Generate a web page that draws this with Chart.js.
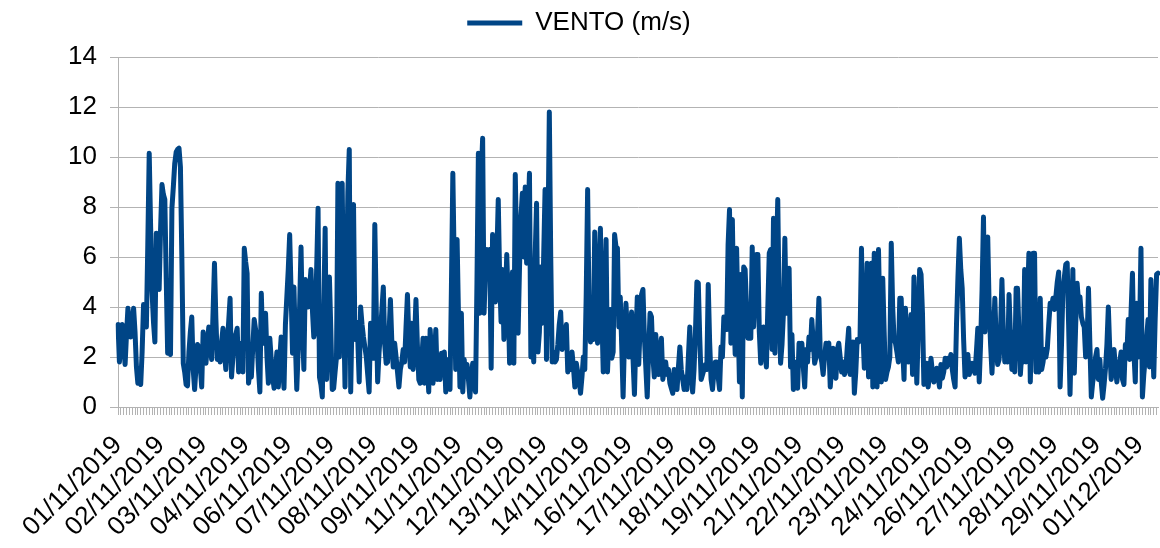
<!DOCTYPE html>
<html>
<head>
<meta charset="utf-8">
<title>VENTO (m/s)</title>
<script src="https://cdn.jsdelivr.net/npm/chart.js@4/dist/chart.umd.min.js"></script>
<style>
    html, body { margin: 0; padding: 0; background: #ffffff; }
    #wrap { width: 1160px; height: 548px; position: relative; }
</style>
</head>
<body>
<div id="wrap"><canvas id="ventoChart"></canvas></div>
<script>
// hourly wind readings, 01/11/2019 00h onwards
const vento = [
    3.3, 1.8, 2.6, 3.3, 2.5, 1.7, 2.9, 3.95, 3.4, 2.8,
    3.3, 3.95, 3.0, 1.6, 0.95, 1.1, 0.9, 2.2, 4.1, 3.6,
    3.2, 6.5, 10.15, 7.2, 4.6, 3.4, 2.6, 6.95, 5.8, 4.7,
    7.1, 8.9, 8.5, 8.3, 5.1, 2.15, 2.3, 2.1, 7.95, 8.8,
    9.75, 10.2, 10.3, 10.35, 9.6, 6.0, 1.75, 1.4, 0.9, 0.85,
    2.2, 3.0, 3.6, 1.5, 0.7, 1.6, 2.5, 2.4, 1.6, 0.8,
    3.0, 2.2, 1.75, 2.6, 3.2, 2.5, 1.9, 3.8, 5.75, 3.5,
    1.9, 2.3, 1.8, 2.6, 3.15, 2.2, 1.5, 2.55, 3.4, 4.35,
    1.2, 2.0, 2.7, 2.9, 3.15, 1.4, 2.0, 2.55, 1.4, 6.35,
    5.8, 5.35, 0.95, 1.4, 1.2, 2.4, 3.5, 3.1, 2.7, 1.5,
    0.6, 4.55, 2.55, 3.2, 3.75, 2.0, 0.95, 2.75, 1.9, 1.2,
    0.75, 1.5, 2.2, 0.8, 1.9, 2.8, 1.6, 0.75, 3.3, 4.4,
    5.5, 6.9, 4.6, 2.15, 4.8, 2.6, 0.7, 2.3, 4.0, 6.4,
    3.2, 1.5, 5.1, 4.6, 4.0, 4.7, 5.5, 3.9, 2.8, 3.1,
    5.5, 7.95, 1.2, 0.9, 0.4, 3.8, 7.15, 1.1, 3.0, 5.2,
    3.1, 0.7, 0.75, 1.4, 2.0, 8.95, 2.0, 5.0, 8.95, 4.0,
    0.8, 4.5, 8.6, 10.3, 0.6, 3.8, 8.1, 2.7, 3.4, 2.7,
    1.0, 4.0, 3.3, 2.8, 2.4, 2.0, 1.3, 0.6, 3.35, 2.6,
    1.95, 7.3, 4.0, 1.0, 2.2, 3.0, 3.9, 4.8, 2.5, 1.75,
    1.8, 2.9, 4.3, 2.6, 1.6, 2.55, 2.0, 1.4, 0.8, 1.5,
    1.8, 2.3, 1.8, 3.2, 4.5, 2.8, 1.6, 3.35, 1.5, 2.7,
    4.3, 2.5, 1.1, 0.95, 1.8, 2.75, 0.95, 2.75, 1.9, 0.6,
    3.1, 2.1, 0.95, 2.0, 3.1, 1.1, 1.5, 1.1, 2.15, 1.6,
    2.2, 0.6, 1.4, 1.9, 0.7, 4.8, 9.35, 5.6, 1.5, 6.7,
    3.6, 0.8, 3.75, 0.6, 1.9, 1.3, 1.7, 1.1, 0.4, 1.2,
    1.75, 0.9, 0.6, 5.0, 10.15, 3.75, 9.2, 10.75, 3.75, 5.5,
    6.3, 5.4, 6.3, 1.55, 6.9, 5.6, 4.2, 6.0, 8.3, 5.2,
    3.4, 5.5, 2.7, 4.2, 6.1, 4.3, 1.75, 4.0, 5.4, 1.75,
    9.3, 6.2, 2.95, 5.6, 7.6, 8.55, 6.0, 8.8, 5.75, 7.5,
    9.35, 2.0, 4.0, 1.8, 6.0, 8.15, 2.2, 3.0, 5.6, 3.35,
    6.0, 8.7, 1.9, 6.5, 11.8, 6.0, 1.8, 2.2, 1.8, 1.9,
    2.5, 3.3, 3.8, 2.3, 2.6, 2.9, 3.3, 1.4, 1.9, 1.5,
    2.2, 1.6, 0.8, 1.75, 1.4, 1.1, 0.55, 1.2, 2.0, 1.5,
    4.5, 8.7, 3.9, 2.6, 3.2, 2.7, 7.0, 4.5, 2.55, 4.8,
    7.15, 3.8, 1.4, 4.2, 6.7, 1.4, 2.8, 3.9, 1.95, 2.2,
    6.9, 6.4, 6.35, 3.2, 4.4, 2.5, 0.4, 2.8, 4.15, 3.0,
    2.0, 3.0, 3.8, 1.9, 0.5, 2.7, 4.4, 1.7, 3.2, 4.5,
    4.7, 2.8, 1.6, 0.4, 2.2, 3.75, 3.6, 2.0, 1.2, 2.9,
    2.0, 1.3, 2.2, 2.75, 1.1, 1.5, 1.8, 1.3, 1.5, 0.95,
    0.75, 0.55, 1.5, 1.0, 0.7, 1.6, 2.4, 1.5, 1.1, 0.7,
    1.2, 0.7, 2.0, 3.2, 1.6, 0.6, 1.5, 3.0, 5.0, 4.95,
    2.8, 1.1, 1.3, 1.5, 1.7, 1.5, 4.9, 2.6, 1.1, 0.7,
    1.4, 1.8, 1.8, 1.2, 0.7, 2.4, 2.0, 3.6, 3.3, 3.1,
    6.5, 7.9, 2.55, 7.5, 4.0, 2.1, 6.35, 3.6, 1.0, 5.3,
    0.4, 5.6, 5.5, 4.0, 2.75, 2.9, 2.75, 6.4, 3.2, 4.5,
    6.1, 6.1, 3.0, 1.75, 2.8, 3.2, 2.2, 1.6, 4.0, 6.15,
    6.3, 2.3, 7.55, 2.15, 5.8, 8.3, 4.0, 1.75, 2.5, 3.75,
    6.75, 3.75, 4.2, 5.55, 1.6, 2.9, 0.7, 1.8, 1.2, 0.75,
    2.55, 1.9, 2.55, 1.6, 0.8, 2.3, 1.8, 2.8, 2.3, 3.5,
    2.6, 1.75, 2.0, 2.9, 4.35, 2.1, 1.8, 1.3, 2.0, 2.55,
    2.5, 2.55, 0.8, 1.6, 2.35, 1.3, 1.15, 2.3, 2.55, 2.0,
    1.4, 1.8, 1.3, 1.5, 2.4, 3.15, 1.3, 2.0, 2.6, 0.55,
    1.4, 2.7, 2.6, 2.8, 6.35, 3.0, 1.55, 3.5, 5.75, 1.2,
    4.0, 5.75, 0.8, 6.15, 3.0, 0.8, 6.3, 3.5, 1.0, 5.15,
    3.0, 1.1, 1.4, 1.6, 2.0, 6.55, 4.0, 2.7, 2.55, 2.2,
    1.8, 4.35, 4.35, 2.4, 1.1, 3.95, 2.6, 1.8, 2.9, 3.7,
    1.3, 5.2, 3.2, 0.95, 3.0, 5.5, 5.3, 3.75, 0.9, 1.3,
    1.75, 0.8, 1.3, 1.95, 1.4, 1.0, 1.3, 1.55, 1.2, 0.8,
    1.7, 1.15, 1.4, 1.95, 1.6, 1.95, 1.7, 2.1, 1.5, 1.1,
    0.8, 3.35, 5.2, 6.75, 5.5, 4.75, 2.7, 1.2, 1.8, 2.1,
    1.3, 1.6, 1.75, 1.5, 1.35, 2.2, 3.15, 1.0, 2.6, 4.7,
    7.6, 3.0, 5.0, 6.8, 4.0, 2.5, 1.35, 2.8, 4.35, 2.6,
    1.7, 1.9, 3.0, 5.1, 3.0, 1.8, 2.2, 1.8, 4.5, 2.9,
    1.5, 3.0, 1.4, 4.75, 4.75, 3.0, 1.3, 2.2, 1.8, 5.5,
    1.8, 4.0, 6.15, 1.0, 3.5, 6.15, 6.15, 1.4, 1.6, 1.4,
    4.35, 1.5, 1.8, 2.3, 2.0, 2.35, 3.3, 4.15, 4.0, 4.35,
    3.9, 4.4, 5.0, 5.4, 0.8, 2.5, 4.7, 5.2, 5.7, 5.75,
    3.3, 0.5, 3.0, 5.5, 1.35, 3.3, 4.95, 4.2, 4.4, 3.6,
    3.35, 3.2, 2.0, 2.6, 4.75, 2.5, 0.4, 1.0, 1.35, 2.0,
    2.3, 1.1, 1.9, 1.0, 0.35, 0.9, 1.55, 2.5, 4.0, 2.3,
    1.1, 1.6, 2.3, 1.6, 1.0, 1.5, 1.8, 2.2, 1.1, 0.9,
    2.5, 2.0, 3.5, 1.9, 3.8, 5.35, 2.2, 1.0, 4.15, 2.0,
    3.0, 6.35, 0.4, 1.3, 1.95, 2.8, 3.5, 1.6, 5.1, 3.0,
    1.2, 3.5, 5.3, 5.35
];

// date shown under every 30th reading
const tickLabels = [
    '01/11/2019', '02/11/2019', '03/11/2019', '04/11/2019', '06/11/2019',
    '07/11/2019', '08/11/2019', '09/11/2019', '11/11/2019', '12/11/2019',
    '13/11/2019', '14/11/2019', '16/11/2019', '17/11/2019', '18/11/2019',
    '19/11/2019', '21/11/2019', '22/11/2019', '23/11/2019', '24/11/2019',
    '26/11/2019', '27/11/2019', '28/11/2019', '29/11/2019', '01/12/2019'
];
const labelStep = 30;

const yTicks = [0, 2, 4, 6, 8, 10, 12, 14];

const font = { family: "'Liberation Sans', Arial, sans-serif", size: 26 };
const lineColor = '#004586';
const gridColor = '#b3b3b3';

const categories = vento.map((v, i) => i);

// leave some room between the legend and the plot
const legendGap = {
    id: 'legendGap',
    beforeInit(chart) {
        const fit = chart.legend.fit;
        chart.legend.fit = function () {
            fit.bind(chart.legend)();
            this.height += 11;
        };
    }
};

new Chart(document.getElementById('ventoChart'), {
    type: 'line',
    data: {
        labels: categories,
        datasets: [{
            label: 'VENTO (m/s)',
            data: vento,
            borderColor: lineColor,
            backgroundColor: lineColor,
            borderWidth: 5,
            borderJoinStyle: 'round',
            borderCapStyle: 'round',
            pointRadius: 0,
            tension: 0,
            fill: false
        }]
    },
    plugins: [legendGap],
    options: {
        responsive: true,
        maintainAspectRatio: false,
        animation: false,
        layout: { padding: { top: 0, right: 2, bottom: 0, left: 0 } },
        plugins: {
            legend: {
                position: 'top',
                labels: {
                    font: font,
                    color: '#000000',
                    usePointStyle: true,
                    pointStyle: 'line',
                    pointStyleWidth: 55,
                    padding: 10
                }
            },
            tooltip: { enabled: false }
        },
        scales: {
            x: {
                offset: false,
                border: { color: gridColor, width: 1 },
                grid: {
                    drawOnChartArea: false,
                    drawTicks: true,
                    tickLength: 8,
                    color: gridColor
                },
                ticks: {
                    autoSkip: false,
                    minRotation: 45,
                    maxRotation: 45,
                    padding: 15,
                    font: font,
                    color: '#000000',
                    callback: (value, index) => {
                        if (index % labelStep === 0) return tickLabels[index / labelStep] || '';
                        return index % 2 === 0 ? '' : null;
                    }
                },
                afterFit: (scale) => {
                    scale.height = 141;
                    scale.paddingLeft = 0;
                    scale.paddingRight = 0;
                }
            },
            y: {
                min: yTicks[0],
                max: yTicks[yTicks.length - 1],
                border: { color: gridColor, width: 1 },
                grid: { color: gridColor, tickLength: 8 },
                ticks: {
                    stepSize: 2,
                    padding: 13,
                    font: font,
                    color: '#000000'
                },
                afterFit: (scale) => {
                    scale.width = 118;
                }
            }
        }
    }
});
</script>
</body>
</html>
